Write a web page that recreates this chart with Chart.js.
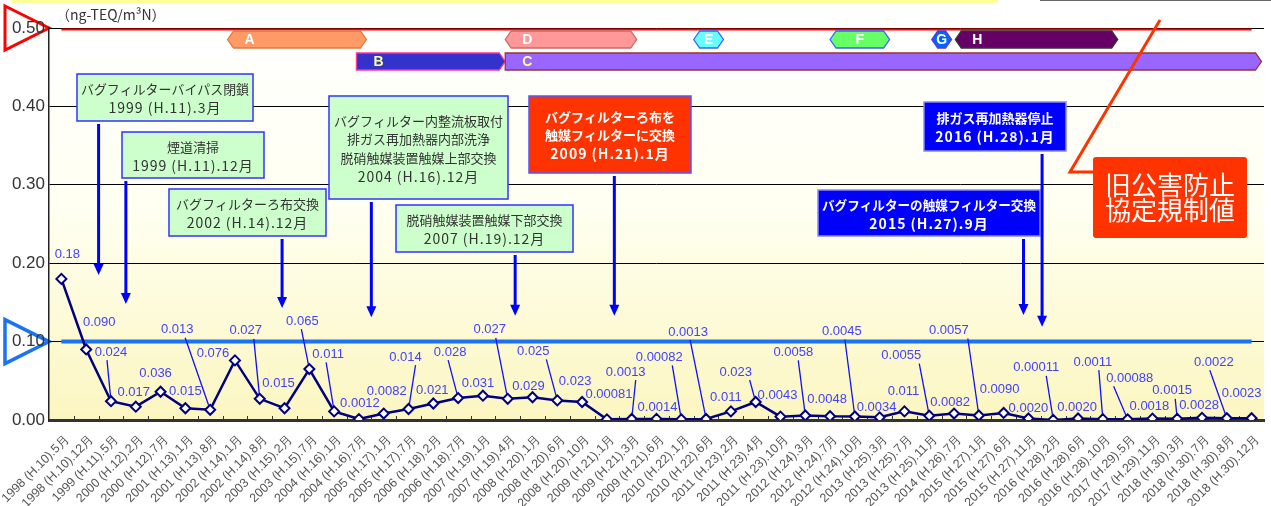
<!DOCTYPE html>
<html>
<head>
<meta charset="utf-8">
<script src="https://cdn.jsdelivr.net/npm/chart.js@4"></script>
<style>
  html, body { margin: 0; padding: 0; background: #fff; }
</style>
</head>
<body>
<canvas id="chart" width="1271" height="506"></canvas>
<script>
// measuring dates
const categories = [
  '1998 (H.10).5月', '1998 (H.10).12月', '1999 (H.11).5月', '2000 (H.12).2月', '2000 (H.12).7月',
  '2001 (H.13).1月', '2001 (H.13).8月', '2002 (H.14).1月', '2002 (H.14).8月', '2003 (H.15).2月',
  '2003 (H.15).7月', '2004 (H.16).1月', '2004 (H.16).7月', '2005 (H.17).1月', '2005 (H.17).7月',
  '2006 (H.18).2月', '2006 (H.18).7月', '2007 (H.19).1月', '2007 (H.19).4月', '2008 (H.20).1月',
  '2008 (H.20).6月', '2008 (H.20).10月', '2009 (H.21).1月', '2009 (H.21).3月', '2009 (H.21).6月',
  '2010 (H.22).1月', '2010 (H.22).6月', '2011 (H.23).2月', '2011 (H.23).4月', '2011 (H.23).10月',
  '2012 (H.24).3月', '2012 (H.24).7月', '2012 (H.24).10月', '2013 (H.25).3月', '2013 (H.25).7月',
  '2013 (H.25).11月', '2014 (H.26).7月', '2015 (H.27).1月', '2015 (H.27).6月', '2015 (H.27).11月',
  '2016 (H.28).2月', '2016 (H.28).6月', '2016 (H.28).10月', '2017 (H.29).5月', '2017 (H.29).11月',
  '2018 (H.30).3月', '2018 (H.30).7月', '2018 (H.30).8月', '2018 (H.30).12月'
]

// dioxin concentration (ng-TEQ/m3N)
const values = [
  0.18, 0.090, 0.024, 0.017, 0.036, 0.015, 0.013, 0.076, 0.027, 0.015,
  0.065, 0.011, 0.0012, 0.0082, 0.014, 0.021, 0.028, 0.031, 0.027, 0.029,
  0.025, 0.023, 0.00081, 0.0013, 0.0014, 0.00082, 0.0013, 0.011, 0.023, 0.0043,
  0.0058, 0.0048, 0.0045, 0.0034, 0.011, 0.0055, 0.0082, 0.0057, 0.0090, 0.0020,
  0.00011, 0.0020, 0.0011, 0.00088, 0.0018, 0.0015, 0.0028, 0.0022, 0.0023
]

const yTicks = [0, 0.1, 0.2, 0.3, 0.4, 0.5]
const newLimit = 0.10   // current limit (blue)
const oldLimit = 0.50   // old agreement limit (red)
const unitText = '（ng-TEQ/m³N）'

// label offset from point [dx, dy, leader x offset or null]
const labelOffsets = [
  [6, -24, null], [13, -27, null], [0, -49, -4], [-2, -14, null], [-5, -18, null],
  [0, -17, null], [-33, -80, 8], [-22, -7, null], [-14, -68, 8], [-6, -25, null],
  [-7, -48, -1], [-6, -57, -2], [1, -16, null], [3, -22, null], [-3, -52, 10],
  [-1, -13, null], [-8, -46, -2], [-5, -12, null], [-18, -69, 6], [-4, -11, null],
  [-24, -49, 13], [-7, -21, null], [2, -25, null], [-6, -47, 10], [1, -11, null],
  [-22, -62, 13], [-18, -87, 2], [-5, -14, null], [-20, -30, 14], [-3, -21, null],
  [-12, -63, 5], [-3, -17, null], [-13, -85, 3], [-3, -10, null], [-1, -20, null],
  [-28, -60, 18], [-4, -11, null], [-30, -85, 19], [-4, -24, null], [0, -10, null],
  [-17, -52, 10], [-1, -11, null], [-10, -57, 6], [2, -41, -16], [-3, -12, null],
  [-5, -28, 3], [-3, -12, null], [-13, -56, -4], [-10, -25, null]
]

// operating periods shown as bars on top (category index range)
const periods = [
  { label: 'A', row: 0, from: 6.7, to: 12.3, fill: '#ff9966', stroke: '#e07a40', text: '#fff', shape: 'hex' },
  { label: 'D', row: 0, from: 17.9, to: 23.2, fill: '#ff9999', stroke: '#c86a6a', text: '#fff', shape: 'hex' },
  { label: 'E', row: 0, from: 25.5, to: 26.7, fill: '#66ffff', stroke: '#3366ff', text: '#fff', shape: 'hex' },
  { label: 'F', row: 0, from: 31.0, to: 33.4, fill: '#66ff66', stroke: '#3366ff', text: '#fff', shape: 'hex' },
  { label: 'G', row: 0, from: 35.1, to: 35.9, fill: '#0066ff', stroke: '#6633cc', text: '#fff', shape: 'hex' },
  { label: 'H', row: 0, from: 36.05, to: 42.6, fill: '#660066', stroke: '#333', text: '#fff', shape: 'hex' },
  { label: 'B', row: 1, from: 11.9, to: 17.9, fill: '#3333cc', stroke: '#ff3399', text: '#ffff99', shape: 'arrow' },
  { label: 'C', row: 1, from: 17.9, to: 48.4, fill: '#9966ff', stroke: '#993333', text: '#ffff99', shape: 'arrow' }
]

// maintenance events: arrow at category index, tip value, box [x, y, w, h]
const events = [
  { at: 1.5, tip: 0.185, box: [77, 74, 176, 47], style: 'green', lines: ['バグフィルターバイパス閉鎖', '1999 (H.11).3月'] },
  { at: 2.6, tip: 0.148, box: [122, 132, 142, 46], style: 'green', lines: ['煙道清掃', '1999 (H.11).12月'] },
  { at: 8.9, tip: 0.143, box: [169, 189, 157, 47], style: 'green', lines: ['バグフィルターろ布交換', '2002 (H.14).12月'] },
  { at: 12.5, tip: 0.131, box: [329, 96, 179, 103], style: 'green',
    lines: ['バグフィルター内整流板取付', '排ガス再加熱器内部洗浄', '脱硝触媒装置触媒上部交換', '2004 (H.16).12月'] },
  { at: 18.3, tip: 0.133, box: [396, 205, 177, 47], style: 'green', lines: ['脱硝触媒装置触媒下部交換', '2007 (H.19).12月'] },
  { at: 22.3, tip: 0.133, box: [529, 96, 162, 77], style: 'red', lines: ['バグフィルターろ布を', '触媒フィルターに交換', '2009 (H.21).1月'] },
  { at: 38.8, tip: 0.134, box: [818, 190, 222, 46], style: 'blue', lines: ['バグフィルターの触媒フィルター交換', '2015 (H.27).9月'] },
  { at: 39.55, tip: 0.119, box: [924, 102, 142, 49], style: 'blue', lines: ['排ガス再加熱器停止', '2016 (H.28).1月'] }
]

const boxStyles = {
  green: { fill: '#ccffcc', stroke: '#3333ff', text: '#333', weight: '' },
  red: { fill: '#ff3300', stroke: '#5555ff', text: '#fff', weight: 'bold ' },
  blue: { fill: '#0000ff', stroke: '#8888ff', text: '#fff', weight: 'bold ' }
}

const FONT = '"Liberation Sans", Arial, sans-serif'
const JP = '"Noto Sans CJK JP", sans-serif'

function idxX(chart, i) {
  const x = chart.scales.x
  const a = x.getPixelForValue(0), b = x.getPixelForValue(1)
  return a + (b - a) * i
}

function triangle(ctx, left, y, tip, color, width) {
  ctx.beginPath()
  ctx.moveTo(left, y - 22)
  ctx.lineTo(tip, y)
  ctx.lineTo(left, y + 22)
  ctx.closePath()
  ctx.fillStyle = '#fff'
  ctx.fill()
  ctx.strokeStyle = color
  ctx.lineWidth = width
  ctx.stroke()
}

const backdrop = {
  id: 'backdrop',
  beforeDraw(chart) {
    const { ctx, chartArea: a, scales: { y } } = chart
    ctx.save()
    // remnant strip at the very top
    ctx.fillStyle = '#ffff99'
    ctx.fillRect(12, 0, 986, 3)
    ctx.fillStyle = '#666'
    ctx.fillRect(1040, 0, 231, 1)

    const g = ctx.createLinearGradient(0, a.top, 0, a.bottom)
    g.addColorStop(0, '#ffffff')
    g.addColorStop(0.45, '#fffff2')
    g.addColorStop(1, '#fbf6c0')
    ctx.fillStyle = g
    ctx.fillRect(a.left, a.top, a.right - a.left, a.bottom - a.top)

    triangle(ctx, 5, y.getPixelForValue(oldLimit), a.left, '#ff0000', 3)
    triangle(ctx, 5, y.getPixelForValue(newLimit), a.left, '#1a73f0', 3.5)
    ctx.restore()
  },
  beforeDatasetsDraw(chart) {
    const { ctx, chartArea: a, scales: { y } } = chart
    const n = categories.length
    const x0 = idxX(chart, 0), x1 = idxX(chart, n - 1)
    ctx.save()
    // limit lines
    ctx.strokeStyle = '#ff0000'
    ctx.lineWidth = 2
    ctx.beginPath()
    ctx.moveTo(x0, y.getPixelForValue(oldLimit) + 1.5)
    ctx.lineTo(x1, y.getPixelForValue(oldLimit) + 1.5)
    ctx.stroke()
    ctx.strokeStyle = '#1a73f0'
    ctx.lineWidth = 4
    ctx.beginPath()
    ctx.moveTo(x0, y.getPixelForValue(newLimit))
    ctx.lineTo(x1, y.getPixelForValue(newLimit))
    ctx.stroke()

    // small ticks inside the plot between categories
    ctx.strokeStyle = '#333'
    ctx.lineWidth = 1
    for (let i = 0; i < n - 1; i++) {
      const xx = Math.round(idxX(chart, i + 0.5)) + 0.5
      ctx.beginPath()
      ctx.moveTo(xx, a.bottom)
      ctx.lineTo(xx, a.bottom - 4)
      ctx.stroke()
    }

    // leader lines for value labels
    const pts = chart.getDatasetMeta(0).data
    ctx.strokeStyle = '#1010ff'
    ctx.lineWidth = 1.3
    pts.forEach((p, i) => {
      const [dx, dy, lx] = labelOffsets[i]
      if (lx === null) return
      ctx.beginPath()
      ctx.moveTo(p.x + dx + lx, p.y + dy + 8)
      ctx.lineTo(p.x, p.y)
      ctx.stroke()
    })
    ctx.restore()
  }
}

function periodShape(ctx, p, x0, x1, top, h) {
  const k = 6
  const mid = top + h / 2
  ctx.beginPath()
  if (p.shape === 'hex') {
    ctx.moveTo(x0, mid)
    ctx.lineTo(x0 + k, top)
    ctx.lineTo(x1 - k, top)
    ctx.lineTo(x1, mid)
    ctx.lineTo(x1 - k, top + h)
    ctx.lineTo(x0 + k, top + h)
  } else {
    ctx.moveTo(x0, top)
    ctx.lineTo(x1 - k, top)
    ctx.lineTo(x1, mid)
    ctx.lineTo(x1 - k, top + h)
    ctx.lineTo(x0, top + h)
  }
  ctx.closePath()
  ctx.fillStyle = p.fill
  ctx.fill()
  ctx.strokeStyle = p.stroke
  ctx.lineWidth = 1.3
  ctx.stroke()
  ctx.fillStyle = p.text
  ctx.font = 'bold 14px ' + FONT
  ctx.textBaseline = 'middle'
  ctx.textAlign = 'center'
  const w = x1 - x0
  const tx = w < 70 ? (x0 + x1) / 2 : x0 + 22
  ctx.fillText(p.label, tx, mid + 1)
}

const overlay = {
  id: 'overlay',
  afterDatasetsDraw(chart) {
    const { ctx, scales: { y } } = chart
    const pts = chart.getDatasetMeta(0).data
    ctx.save()

    // value labels
    ctx.font = '13px ' + FONT
    ctx.fillStyle = '#4242ff'
    ctx.textAlign = 'center'
    ctx.textBaseline = 'middle'
    pts.forEach((p, i) => {
      const [dx, dy] = labelOffsets[i]
      ctx.fillText(values[i].toPrecision(2), p.x + dx, p.y + dy)
    })

    // unit
    ctx.fillStyle = '#333'
    ctx.font = '14px ' + JP
    ctx.textAlign = 'left'
    ctx.fillText(unitText, 56, 15)

    // period bars
    periods.forEach(p => {
      const top = p.row === 0 ? 31 : 53
      periodShape(ctx, p, idxX(chart, p.from), idxX(chart, p.to), top, 17)
    })

    // event boxes and arrows
    events.forEach(ev => {
      const st = boxStyles[ev.style]
      const [bx, by, bw, bh] = ev.box
      const ax = idxX(chart, ev.at)
      const tipY = y.getPixelForValue(ev.tip)
      ctx.strokeStyle = '#0000ff'
      ctx.fillStyle = '#0000ff'
      ctx.lineWidth = 3
      ctx.beginPath()
      ctx.moveTo(ax, by + bh + 3)
      ctx.lineTo(ax, tipY - 8)
      ctx.stroke()
      ctx.beginPath()
      ctx.moveTo(ax - 5, tipY - 11)
      ctx.lineTo(ax + 5, tipY - 11)
      ctx.lineTo(ax, tipY)
      ctx.closePath()
      ctx.fill()

      ctx.fillStyle = st.fill
      ctx.fillRect(bx, by, bw, bh)
      ctx.strokeStyle = st.stroke
      ctx.lineWidth = 1.5
      ctx.strokeRect(bx, by, bw, bh)
      ctx.fillStyle = st.text
      ctx.textAlign = 'center'
      ctx.textBaseline = 'middle'
      const lh = 18.5
      const y0 = by + bh / 2 - (ev.lines.length - 1) * lh / 2 + 1
      ev.lines.forEach((line, i) => {
        const isDate = /^\d{4}/.test(line)
        ctx.font = st.weight + (isDate ? '14px ' : '13px ') + JP
        if ('letterSpacing' in ctx) ctx.letterSpacing = isDate ? '1px' : '0px'
        ctx.fillText(line, bx + bw / 2, y0 + i * lh, bw - 8)
      })
      if ('letterSpacing' in ctx) ctx.letterSpacing = '0px'
    })

    // old agreement limit callout
    ctx.strokeStyle = '#ff3300'
    ctx.lineWidth = 3
    ctx.beginPath()
    ctx.moveTo(1160, 20)
    ctx.lineTo(1070, 172)
    ctx.lineTo(1094, 172)
    ctx.stroke()
    ctx.fillStyle = '#ff3300'
    ctx.beginPath()
    ctx.roundRect(1093, 157, 154, 81, 3)
    ctx.fill()
    ctx.fillStyle = '#fff'
    ctx.font = '26px ' + JP
    ctx.textAlign = 'center'
    ctx.fillText('旧公害防止', 1170, 185)
    ctx.fillText('協定規制値', 1170, 210)
    ctx.restore()
  }
}

new Chart(document.getElementById('chart').getContext('2d'), {
  type: 'line',
  data: {
    labels: categories,
    datasets: [{
      data: values,
      borderColor: '#000080',
      borderWidth: 2.5,
      pointStyle: 'rectRot',
      pointRadius: 5,
      pointBorderWidth: 2,
      pointBackgroundColor: '#fff',
      pointBorderColor: '#000080',
      tension: 0
    }]
  },
  options: {
    responsive: false,
    animation: false,
    layout: { padding: { top: 28, right: 3, left: 0, bottom: 0 } },
    plugins: { legend: { display: false }, tooltip: { enabled: false } },
    scales: {
      x: {
        offset: true,
        grid: { drawOnChartArea: false, drawTicks: false, color: 'transparent' },
        border: { display: true, color: '#333', width: 3 },
        ticks: {
          autoSkip: false, maxRotation: 45, minRotation: 45, padding: 12, labelOffset: 6,
          color: '#555', font: { size: 12.5, family: FONT }
        },
        afterFit(s) { s.height = 86; s.paddingLeft = 0; s.paddingRight = 0 }
      },
      y: {
        min: 0, max: 0.5,
        afterBuildTicks(s) { s.ticks = yTicks.map(v => ({ value: v })) },
        grid: { color: '#000', lineWidth: 1, drawTicks: false },
        border: { color: '#222', width: 1.5 },
        ticks: {
          padding: 4, color: '#333', font: { size: 17, family: FONT },
          callback: v => v.toFixed(2)
        },
        afterFit(s) { s.width = 49 }
      }
    }
  },
  plugins: [backdrop, overlay]
})
</script>
</body>
</html>
